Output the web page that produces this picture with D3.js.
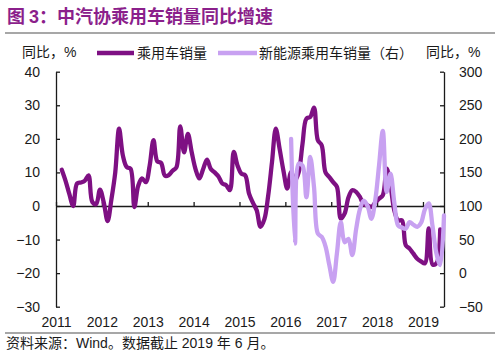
<!DOCTYPE html>
<meta charset="utf-8">
<style>
body { margin: 0; background: #fff; }
text { font-family: "Liberation Sans", Arial, "Noto Sans CJK SC", sans-serif; fill: #1a1a1a; }
.axis path, .axis line { stroke: #1a1a1a; stroke-width: 1.3; }
.axis text { font-size: 14px; fill: #1a1a1a; }
.sales { fill: none; stroke: #7e1083; stroke-width: 4.3; stroke-linejoin: round; stroke-linecap: round; }
.nev { fill: none; stroke: #c8a1f1; stroke-width: 4.3; stroke-linejoin: round; stroke-linecap: round; }
.rule { stroke: #8a8a8a; stroke-width: 1.5; }
</style>
<body>
<div id="chart"></div>
</body>
<script src="https://d3js.org/d3.v7.min.js"></script>
<script>

// monthly series, year-on-year %, months counted from Jan 2011 (index 0)
var salesStart = 1;   // Feb 2011
var sales = [
  10.8, 7.5, 3.5, 0, 6.7, 7, 7.5, 9.1, 1.2, 0.5, 4.9,            // 2011 Feb-Dec
  1, -4.5, 2, 10, 23, 15, 11.6, 11.1, -0.3, 6, 8.2, 7.1,          // 2012
  12, 19.6, 13.3, 12.8, 9, 9.2, 10.5, 11.5, 23.7, 16, 21.5, 16,    // 2013
  11, 8.2, 11, 13.8, 11, 10, 8.8, 6.7, 6.2, 4.7, 16.1, 12,         // 2014
  9.6, 9.1, 3.7, 1, -1.3, -6.2, -4, 3, 13, 23, 17, 10.5,           // 2015
  5.2, 10.1, 7.6, 10.1, 18.6, 26, 26.5, 29.3, 19.6, 18.1, 10, 8.6, // 2016
  7.1, 5.7, -3.8, -2.3, 2.5, 4.7, 4.2, 2.7, 0.5, 0.2, -0.3, 1,     // 2017
  2.2, 3.2, 11.1, 6.2, -1.3, -4.3, -4.3, -11.7, -12.7, -14.2, -15.7, -16.5, // 2018
  -17.1, -6.7, -17.4, -17.1, -7                                    // 2019 Jan-May
];
var nevStart = 61;    // Feb 2016
var nev = [
  200, 44, 163, 160, 113, 173, 128, 59, 54, 40, 12,                // 2016 Feb-Dec
  -13, 30, 76, 46, 51, 27, 65, 95, 108, 100, 81, 108,             // 2017
  160, 212, 121, 148, 105, 71, 68, 66, 76, 72, 69, 75,             // 2018
  95, 104, 70, 30, 12, 86                                          // 2019
];
var yearLabels = ["2011", "2012", "2013", "2014", "2015", "2016", "2017", "2018", "2019"];
var leftTicks = [-30, -20, -10, 0, 10, 20, 30, 40];
var rightTicks = [-50, 0, 50, 100, 150, 200, 250, 300];

var W = 500, H = 361;
var plotL = 56, plotR = 444, plotT = 71.7, plotB = 306.7;

var svg = d3.select("#chart").append("svg")
    .attr("width", W)
    .attr("height", H);

var x = d3.scaleLinear().domain([0, 101.5]).range([plotL, plotR]);
var yL = d3.scaleLinear().domain([-30, 40]).range([plotB, plotT]);
var yR = d3.scaleLinear().domain([-50, 300]).range([plotB, plotT]);

// title and rules
var title = svg.append("text")
    .attr("x", 7).attr("y", 23)
    .style("font-size", "18px").style("font-weight", "bold")
    .style("font-family", "'Noto Sans CJK SC', sans-serif");
title.append("tspan").style("fill", "#8b1f8b").text("图 ");
title.append("tspan").style("fill", "#8b1f8b").style("font-family", "'Liberation Sans', Arial").text("3");
title.append("tspan").style("fill", "#8b1f8b").text("：中汽协乘用车销量同比增速");

svg.append("line").attr("class", "rule").attr("x1", 5).attr("x2", 495).attr("y1", 33).attr("y2", 33);
svg.append("line").attr("class", "rule").attr("x1", 5).attr("x2", 495).attr("y1", 333).attr("y2", 333);

// axes
svg.append("g")
    .attr("class", "axis")
    .attr("transform", "translate(" + plotL + ",0)")
    .call(d3.axisLeft(yL).tickValues(leftTicks).tickSizeInner(-4).tickSizeOuter(0).tickPadding(16));

svg.append("g")
    .attr("class", "axis")
    .attr("transform", "translate(" + plotR + ",0)")
    .call(d3.axisRight(yR).tickValues(rightTicks).tickSizeInner(-4).tickSizeOuter(0).tickPadding(15));

var yearTicks = yearLabels.map(function(d, i) { return i * 12; });

svg.append("g")
    .attr("class", "axis")
    .attr("transform", "translate(0," + yL(0) + ")")
    .call(d3.axisBottom(x).tickValues(yearTicks).tickSizeInner(-4).tickSizeOuter(0).tickFormat(""));

var xl = svg.append("g")
    .attr("class", "axis")
    .attr("transform", "translate(0," + plotB + ")")
    .call(d3.axisBottom(x).tickValues(yearTicks).tickSize(0).tickPadding(10)
        .tickFormat(function(d, i) { return yearLabels[i]; }));
xl.select(".domain").remove();

// lines
var salesData = sales.map(function(v, i) { return {m: salesStart + i, v: v}; });
var nevData = nev.map(function(v, i) { return {m: nevStart + i, v: v}; });

var lineL = d3.line()
    .x(function(d) { return x(d.m + 0.5); })
    .y(function(d) { return yL(d.v); })
    .curve(d3.curveCatmullRom.alpha(0.5));
var lineR = d3.line()
    .x(function(d) { return x(d.m + 0.5); })
    .y(function(d) { return yR(d.v); })
    .curve(d3.curveCatmullRom.alpha(0.5));

svg.append("path").datum(salesData).attr("class", "sales").attr("d", lineL);
svg.append("path").datum(nevData).attr("class", "nev").attr("d", lineR);

// legend
var lg = svg.append("g").style("font-size", "14px");
lg.append("text").attr("x", 22).attr("y", 57).text("同比，%");
lg.append("line").attr("class", "sales").attr("x1", 97).attr("x2", 134).attr("y1", 53).attr("y2", 53).style("stroke-linecap", "butt");
lg.append("text").attr("x", 137).attr("y", 58).text("乘用车销量");
lg.append("line").attr("class", "nev").attr("x1", 218).attr("x2", 257).attr("y1", 53).attr("y2", 53).style("stroke-linecap", "butt");
lg.append("text").attr("x", 259).attr("y", 58).text("新能源乘用车销量（右）");
lg.append("text").attr("x", 426).attr("y", 57).text("同比，%");

// source
svg.append("text")
    .attr("x", 6).attr("y", 348)
    .style("font-size", "14px")
    .text("资料来源：Wind。数据截止 2019 年 6 月。");

</script>
